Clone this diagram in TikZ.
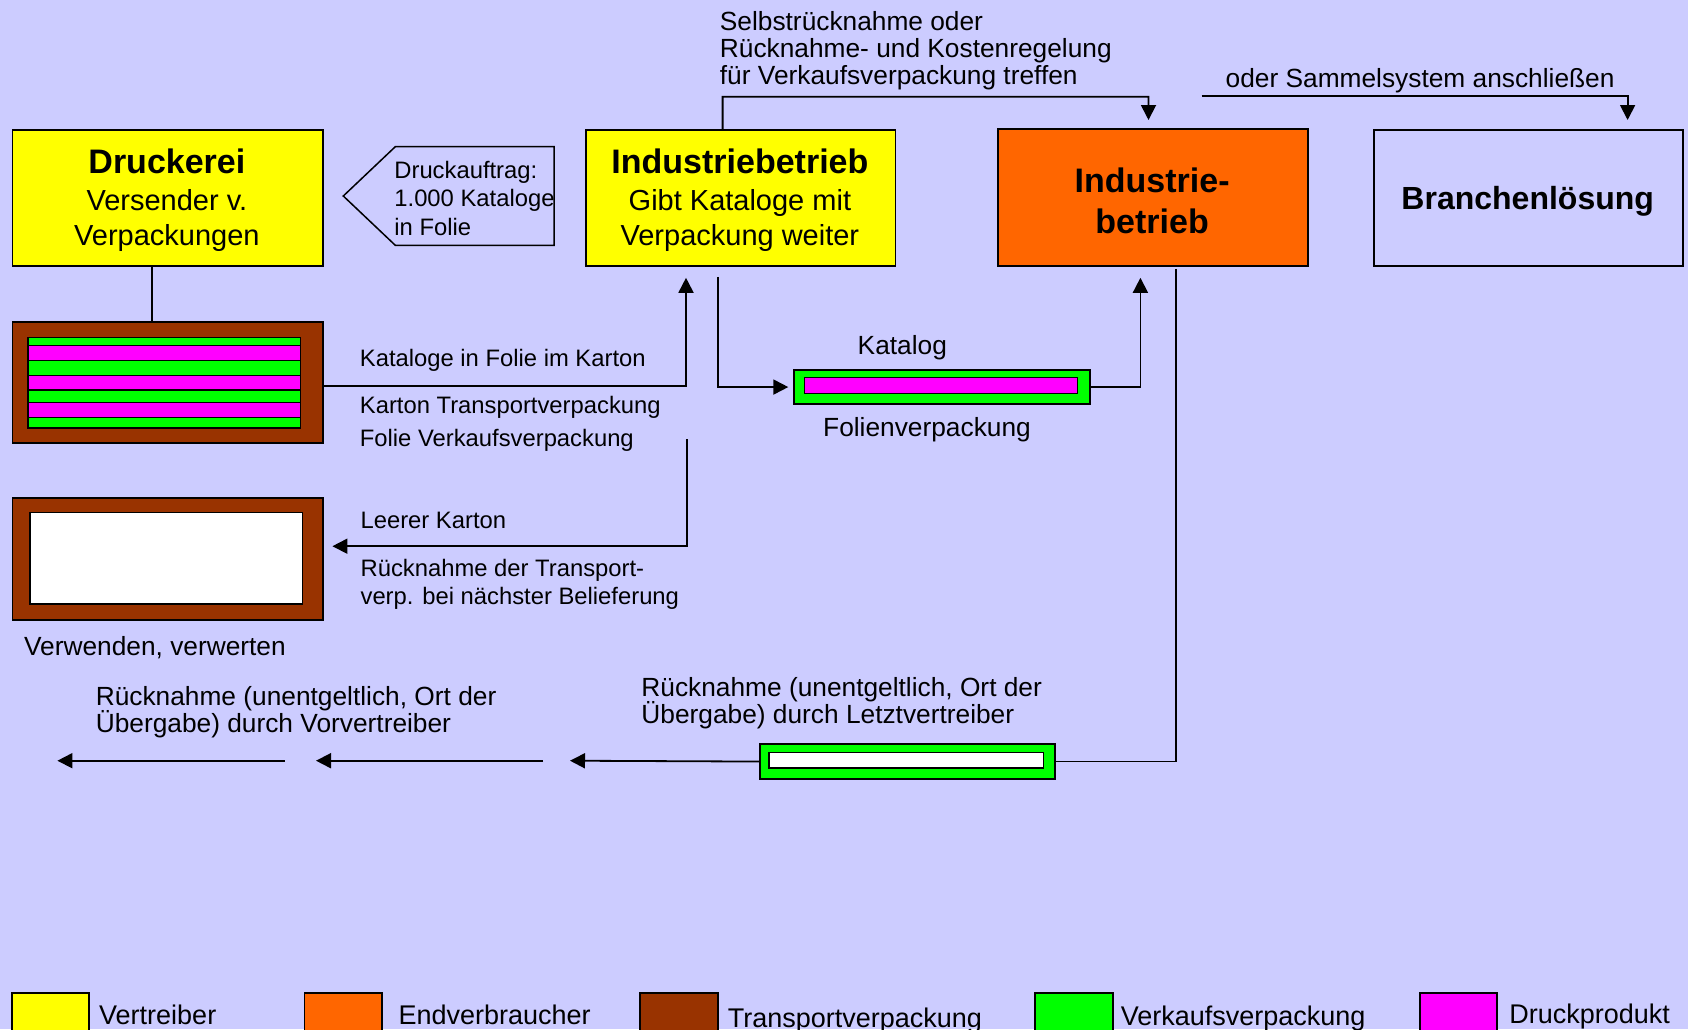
\documentclass[tikz,border=0pt]{standalone}
\usepackage{fontspec}
\setmainfont{Liberation Sans}
\usetikzlibrary{arrows.meta}
\definecolor{bg}{HTML}{CCCCFF}
\definecolor{gelb}{HTML}{FFFF00}
\definecolor{orng}{HTML}{FF6600}
\definecolor{braun}{HTML}{993300}
\definecolor{gruen}{HTML}{00FF00}
\definecolor{pink}{HTML}{FF00FF}
\begin{document}
\begin{tikzpicture}[x=1pt,y=-1pt,
  box/.style={draw=black,line width=1.8pt,inner sep=0pt,anchor=north west},
  inner/.style={draw=black,line width=1.4pt},
  conn/.style={draw=black,line width=1.8pt},
  arr/.style={conn,-{Triangle[length=15pt,width=15pt]}},
  stxt/.style={inner sep=0pt,anchor=base west,font=\fontsize{23.8}{28}\selectfont},
  mtxt/.style={inner sep=0pt,anchor=base west,font=\fontsize{26.3}{27}\selectfont},
  ltxt/.style={inner sep=0pt,anchor=base west,font=\fontsize{27}{27}\selectfont},
  ttl/.style={inner sep=0pt,anchor=base,font=\bfseries\fontsize{34}{34}\selectfont},
  sub/.style={inner sep=0pt,anchor=base,font=\fontsize{29}{29}\selectfont},
  legbox/.style={draw=black,line width=1.8pt,inner sep=0pt,anchor=north west,minimum width=77.5pt,minimum height=60pt}
]
\fill[bg] (0,0) rectangle (1688,1029);
\useasboundingbox (0,0) rectangle (1688,1029);

% main boxes
\node[box,fill=gelb,minimum width=310.7pt,minimum height=136.3pt] (druck) at (11.5,129) {};
\node[ttl] (tdruck1) at (166.9,173.2) {Druckerei};
\node[sub] (tdruck2) at (166.9,210) {Versender v.};
\node[sub] (tdruck3) at (166.9,245) {Verpackungen};

\node[box,fill=gelb,minimum width=309.3pt,minimum height=136pt] (indu) at (585.2,129) {};
\node[ttl] (tindu1) at (739.9,173.2) {Industriebetrieb};
\node[sub] (tindu2) at (739.9,210) {Gibt Kataloge mit};
\node[sub] (tindu3) at (739.9,245) {Verpackung weiter};

\node[box,fill=orng,minimum width=309.4pt,minimum height=136.7pt] (orange) at (997.4,128.3) {};
\node[ttl] (tor1) at (1152.1,192.7) {Industrie-};
\node[ttl] (tor2) at (1152.1,233.5) {betrieb};

\node[box,fill=bg,minimum width=309.3pt,minimum height=136pt] (branch) at (1373,129) {};
\node[ttl,font=\bfseries\fontsize{32}{32}\selectfont] (tbranch) at (1527.7,209) {Branchenlösung};

% Druckauftrag pentagon
\draw[line width=1.5pt,fill=bg] (343.3,196) -- (395.3,146.7) -- (554.2,146.7) -- (554.2,245.3) -- (395.3,245.3) -- cycle;
\node[stxt] (da1) at (394.2,178.3) {Druckauftrag:};
\node[stxt] (da2) at (394.2,206.7) {1.000 Kataloge};
\node[stxt] (da3) at (394.2,235) {in Folie};

% striped carton
\node[box,fill=braun,minimum width=310.7pt,minimum height=121pt] (stripes) at (11.5,321) {};
\filldraw[inner,fill=gruen] (27.9,337.3) rectangle (300.4,345.7);
\filldraw[inner,fill=pink] (27.9,345.7) rectangle (300.4,360.7);
\filldraw[inner,fill=gruen] (27.9,360.7) rectangle (300.4,375.3);
\filldraw[inner,fill=pink] (27.9,375.3) rectangle (300.4,390);
\filldraw[inner,fill=gruen] (27.9,390) rectangle (300.4,402.7);
\filldraw[inner,fill=pink] (27.9,402.7) rectangle (300.4,417.7);
\filldraw[inner,fill=gruen] (27.9,417.7) rectangle (300.4,428);

% empty carton
\node[box,fill=braun,minimum width=310.4pt,minimum height=122pt] (empty) at (11.5,496.7) {};
\filldraw[inner,fill=white] (29.8,512.7) rectangle (302.6,604);
\node[mtxt] (verw) at (23.9,655) {Verwenden, verwerten};

% catalogue bar
\node[box,fill=gruen,minimum width=295.7pt,minimum height=34.3pt] (kat) at (793.3,369) {};
\filldraw[inner,fill=pink] (804.3,377.3) rectangle (1077.3,393.3);
\node[mtxt] (tkat) at (857.5,354.3) {Katalog};
\node[mtxt] (tfol) at (823,436.5) {Folienverpackung};

% bottom bar
\node[box,fill=gruen,minimum width=295.3pt,minimum height=34.7pt] (bar) at (759,743.3) {};
\filldraw[inner,fill=white] (769,752.7) rectangle (1043.6,768);

% labels
\node[mtxt] (s1) at (719.7,30) {Selbstrücknahme oder};
\node[mtxt] (s2) at (719.7,57.3) {Rücknahme- und Kostenregelung};
\node[mtxt] (s3) at (719.7,84) {für Verkaufsverpackung treffen};
\node[mtxt] (sam) at (1225.5,87.3) {oder Sammelsystem anschließen};
\node[stxt] (k1) at (359.7,366.7) {Kataloge in Folie im Karton};
\node[stxt] (k2) at (359.7,413) {Karton Transportverpackung};
\node[stxt] (k3) at (359.7,446.5) {Folie Verkaufsverpackung};
\node[stxt] (l1) at (360.4,528.3) {Leerer Karton};
\node[stxt] (l2) at (360.4,576) {Rücknahme der Transport-};
\node[stxt] (l3) at (360.4,604.3) {verp. bei nächster Belieferung};
\node[mtxt] (r1) at (95.6,705.5) {Rücknahme (unentgeltlich, Ort der};
\node[mtxt] (r2) at (95.6,732.5) {Übergabe) durch Vorvertreiber};
\node[mtxt] (r3) at (641.2,696.5) {Rücknahme (unentgeltlich, Ort der};
\node[mtxt] (r4) at (641.2,723.5) {Übergabe) durch Letztvertreiber};

% coordinates
\coordinate (topbend) at (722.6,96.7);
\coordinate (samstart) at (1201.7,96);
\coordinate (leerstart) at (686.9,439);
\coordinate (a1) at (570,760.7);
\coordinate (a2s) at (543,760.7);
\coordinate (a2e) at (316,760.7);
\coordinate (a3s) at (284.6,760.7);
\coordinate (a3e) at (57.4,760.7);

% connectors
\draw[conn] ([xshift=140.4pt]druck.south west) -- ([xshift=140.4pt]stripes.north west);
\draw[arr] ([yshift=-3.5pt]stripes.east) -| ([xshift=100.8pt,yshift=-11pt]indu.south west);
\draw[arr] ([xshift=133pt,yshift=-10pt]indu.south west) |- ([xshift=-5pt]kat.west);
\draw[arr] (kat.east) -| ([xshift=143pt,yshift=-11pt]orange.south west);
\draw[conn] ([xshift=178.5pt,yshift=-2pt]orange.south west) |- (bar.east);
\draw[arr] (bar.west) -- (a1);
\draw[arr] (a2s) -- (a2e);
\draw[arr] (a3s) -- (a3e);
\draw[arr] (leerstart) |- ([xshift=8.7pt,yshift=12.4pt]empty.east);
\draw[arr] ([xshift=137.4pt]indu.north west) -- (topbend) -| ([xshift=151.1pt,yshift=8.3pt]orange.north west);
\draw[arr] (samstart) -| ([xshift=254.6pt,yshift=9pt]branch.north west);

% legend
\node[legbox,fill=gelb] (lg1) at (10.8,991.7) {};
\node[legbox,fill=orng] (lg2) at (303.6,991.7) {};
\node[legbox,fill=braun] (lg3) at (639.4,991.7) {};
\node[legbox,fill=gruen] (lg4) at (1034.4,991.7) {};
\node[legbox,fill=pink] (lg5) at (1418.7,991.7) {};
\node[ltxt] (lt1) at (99,1024) {Vertreiber};
\node[ltxt] (lt2) at (398.3,1024) {Endverbraucher};
\node[ltxt] (lt3) at (727.7,1027) {Transportverpackung};
\node[ltxt] (lt4) at (1120.6,1025) {Verkaufsverpackung};
\node[ltxt] (lt5) at (1509.2,1023.5) {Druckprodukt};
\end{tikzpicture}
\end{document}
